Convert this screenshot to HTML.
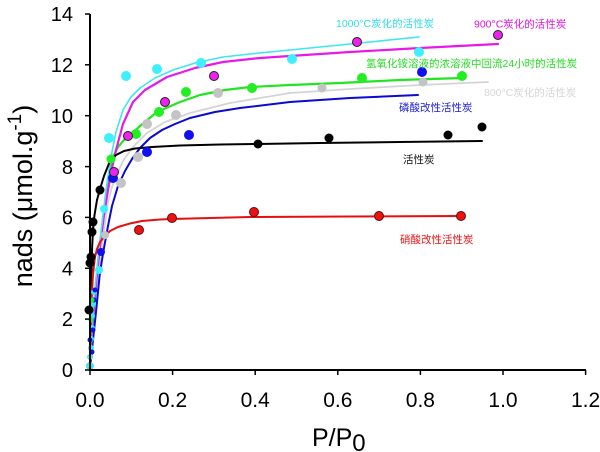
<!DOCTYPE html>
<html>
<head>
<meta charset="utf-8">
<style>
  html, body { margin:0; padding:0; background:#fff; }
  body { width:600px; height:452px; overflow:hidden; }
  svg { display:block; }
  .tick { font-family:"Liberation Sans", Arial, sans-serif; fill:#000; }
  .lab { font-family:"Liberation Sans", "Noto Sans CJK SC", sans-serif; font-size:10.5px; }
</style>
</head>
<body>
<svg width="600" height="452" viewBox="0 0 600 452" xmlns="http://www.w3.org/2000/svg">
  <rect width="600" height="452" fill="#fff"/>

  <!-- curves -->
  <g fill="none" stroke-linejoin="round" stroke-linecap="round">
    <polyline stroke="#d4d4d4" stroke-width="1.8" points="90,370 92,345 94,320 97,293 100,266 104,230 108,202 112,187 117,174 123,161 132,148 147,133 165,122 190,113 230,103 290,93 350,89 420,85 488,82"/>
    <polyline stroke="#0a0ad0" stroke-width="2" points="90,370 93,340 96,312 100,272 104,248 108,226 112,206 118,186 125,171 132,159 140,148 150,138 162,130 175,124 190,118 215,112 240,108 290,102 350,98 418,95"/>
    <polyline stroke="#22e522" stroke-width="2.2" points="90,370 91,345 93,318 95,292 98,263 101,236 104,212 107,190 110,170 113,157 118,147 124,140 130,135 140,126 157,112 180,102 200,95 225,90 250,87 290,85 340,83 400,80 462,78"/>
    <polyline stroke="#e61ae6" stroke-width="2.2" points="90,370 91,345 93,318 95,295 98,265 101,238 104,215 108,190 112,168 116,150 123,124 133,102 145,90 167,77 195,68 223,62 260,58 290,56 350,52 420,48 498,44"/>
    <polyline stroke="#3ee6f0" stroke-width="1.6" points="90,370 91,345 92,325 94,300 97,268 100,240 103,215 106,190 109,170 112,152 116,132 123,110 131,97 140,88 155,78 173,70 195,63 223,57 250,54 280,51 320,47 360,43 419,37"/>
    <polyline stroke="#000" stroke-width="2" points="90,370 90.3,340 90.7,310 91.2,280 92,250 93,230 94.5,215 97,200 100,189 104,176 110,161 116,155 124,151 135,148.5 152,147 180,145.5 220,144.5 258,144 320,143 400,142 482,141"/>
    <polyline stroke="#e60f0f" stroke-width="2" points="90,370 90.5,340 91,315 92,292 93,275 94,265 95,257 97,249 100,242 105,236 110,231 118,227 130,223.5 142,221 160,219.5 172,219 210,218 250,217 350,216.5 461,216"/>
  </g>

  <!-- near-origin cluster -->
  <g>
    <circle cx="90" cy="366" r="4" fill="#3ee6f0"/>
    <circle cx="90" cy="357" r="3" fill="#3ee6f0"/>
    <circle cx="91" cy="348" r="3" fill="#3ee6f0"/>
    <circle cx="91" cy="339" r="3" fill="#3ee6f0"/>
    <circle cx="92" cy="328" r="3" fill="#3ee6f0"/>
    <circle cx="92" cy="316" r="3" fill="#3ee6f0"/>
    <circle cx="93" cy="304" r="3" fill="#3ee6f0"/>
    <circle cx="94" cy="292" r="3" fill="#3ee6f0"/>
    <circle cx="92" cy="352" r="2.5" fill="#1010ee"/>
    <circle cx="90" cy="340" r="2.5" fill="#1010ee"/>
    <circle cx="93" cy="330" r="2.5" fill="#1010ee"/>
    <circle cx="94" cy="300" r="2.5" fill="#1010ee"/>
    <circle cx="95" cy="290" r="2.5" fill="#1010ee"/>
    <circle cx="91" cy="320" r="2.5" fill="#22ee22"/>
    <circle cx="92" cy="300" r="2.5" fill="#22ee22"/>
  </g>

  <!-- data markers -->
  <g fill="#c4c4c4">
    <circle cx="121" cy="183" r="5"/><circle cx="138" cy="157" r="5"/><circle cx="147" cy="124" r="5"/>
    <circle cx="176" cy="115" r="5"/><circle cx="218" cy="93" r="5"/><circle cx="322" cy="88" r="4.5"/><circle cx="423" cy="82" r="4.5"/>
    <circle cx="105" cy="235" r="4"/>
  </g>
  <g fill="#1010ee">
    <circle cx="101" cy="252" r="4"/><circle cx="113" cy="178" r="5"/><circle cx="147" cy="152" r="5"/>
    <circle cx="189" cy="135" r="5"/><circle cx="422" cy="72" r="5"/>
  </g>
  <g fill="#22ee22">
    <circle cx="111" cy="159" r="4.5"/><circle cx="136" cy="134" r="5"/><circle cx="159" cy="112" r="5"/>
    <circle cx="186" cy="92" r="5"/><circle cx="252" cy="88" r="5"/><circle cx="362" cy="78" r="5"/><circle cx="462" cy="76" r="5"/>
  </g>
  <g fill="#3ef0ff">
    <circle cx="99" cy="270" r="4"/><circle cx="104" cy="209" r="4"/><circle cx="109" cy="138" r="5"/>
    <circle cx="126" cy="76" r="5"/><circle cx="157" cy="69" r="5"/><circle cx="201" cy="63" r="5"/>
    <circle cx="292" cy="59" r="5"/><circle cx="419" cy="52" r="5"/>
  </g>
  <g fill="#ee22ee" stroke="#222" stroke-width="1">
    <circle cx="114" cy="172" r="4.5"/><circle cx="128" cy="136" r="4.5"/><circle cx="165" cy="102" r="4.5"/>
    <circle cx="214" cy="76" r="4.5"/><circle cx="357" cy="42" r="4.5"/><circle cx="498" cy="35" r="4.5"/>
  </g>
  <g fill="#000">
    <circle cx="89" cy="310" r="4.5"/><circle cx="90" cy="263" r="4.5"/><circle cx="91" cy="257" r="4.5"/>
    <circle cx="92" cy="232" r="4.5"/><circle cx="93" cy="222" r="4.5"/><circle cx="100" cy="190" r="4.5"/>
    <circle cx="258" cy="144" r="4.5"/><circle cx="329" cy="138" r="4.5"/><circle cx="448" cy="135" r="4.5"/><circle cx="482" cy="127" r="4.5"/>
  </g>
  <g fill="#ee1111" stroke="#551111" stroke-width="1">
    <circle cx="139" cy="230" r="4.5"/><circle cx="172" cy="218" r="4.5"/><circle cx="254" cy="212" r="4.5"/>
    <circle cx="379" cy="216" r="4.5"/><circle cx="461" cy="216" r="4.5"/>
  </g>

  <!-- axes -->
  <g stroke="#000" stroke-width="2" fill="none">
    <line x1="90" y1="14" x2="90" y2="371"/>
    <line x1="89" y1="370" x2="586" y2="370"/>
  </g>
  <g stroke="#000" stroke-width="1.5">
    <line x1="85" y1="14" x2="90" y2="14"/>
    <line x1="85" y1="64.8" x2="90" y2="64.8"/>
    <line x1="85" y1="115.7" x2="90" y2="115.7"/>
    <line x1="85" y1="166.6" x2="90" y2="166.6"/>
    <line x1="85" y1="217.4" x2="90" y2="217.4"/>
    <line x1="85" y1="268.3" x2="90" y2="268.3"/>
    <line x1="85" y1="319.1" x2="90" y2="319.1"/>
    <line x1="85" y1="370" x2="90" y2="370"/>
    <line x1="90" y1="370" x2="90" y2="375"/>
    <line x1="172.6" y1="370" x2="172.6" y2="375"/>
    <line x1="255.2" y1="370" x2="255.2" y2="375"/>
    <line x1="337.8" y1="370" x2="337.8" y2="375"/>
    <line x1="420.4" y1="370" x2="420.4" y2="375"/>
    <line x1="503" y1="370" x2="503" y2="375"/>
    <line x1="585.6" y1="370" x2="585.6" y2="375"/>
  </g>

  <!-- y tick labels -->
  <g class="tick" font-size="20" text-anchor="end">
    <text x="73" y="21">14</text>
    <text x="73" y="72">12</text>
    <text x="73" y="123">10</text>
    <text x="73" y="174">8</text>
    <text x="73" y="224.5">6</text>
    <text x="73" y="275.5">4</text>
    <text x="73" y="326">2</text>
    <text x="73" y="377">0</text>
  </g>
  <!-- x tick labels -->
  <g class="tick" font-size="21" text-anchor="middle">
    <text x="90" y="407">0.0</text>
    <text x="172.6" y="407">0.2</text>
    <text x="255.2" y="407">0.4</text>
    <text x="337.8" y="407">0.6</text>
    <text x="420.4" y="407">0.8</text>
    <text x="503" y="407">1.0</text>
    <text x="585.6" y="407">1.2</text>
  </g>

  <!-- axis titles -->
  <text class="tick" x="312" y="446" font-size="25">P/P<tspan font-size="24" dy="5">0</tspan></text>
  <text class="tick" font-size="27" text-anchor="middle" transform="translate(32,196) rotate(-90)">nads (μmol.g<tspan font-size="19" dy="-11">-1</tspan><tspan dy="11">)</tspan></text>

  <!-- series labels -->
  <text class="lab" x="336" y="27" fill="#33dcec">1000°C炭化的活性炭</text>
  <text class="lab" x="474" y="27.5" fill="#dd11dd">900°C炭化的活性炭</text>
  <text class="lab" x="366" y="67" fill="#22dd22">氢氧化铵溶液的浓溶液中回流24小时的活性炭</text>
  <text class="lab" x="484" y="96" fill="#d6d6d6">800°C炭化的活性炭</text>
  <text class="lab" x="399" y="111" fill="#1a1ad0">磷酸改性活性炭</text>
  <text class="lab" x="403" y="163" fill="#111">活性炭</text>
  <text class="lab" x="400" y="243" fill="#ee1111">硝酸改性活性炭</text>
</svg>
</body>
</html>
